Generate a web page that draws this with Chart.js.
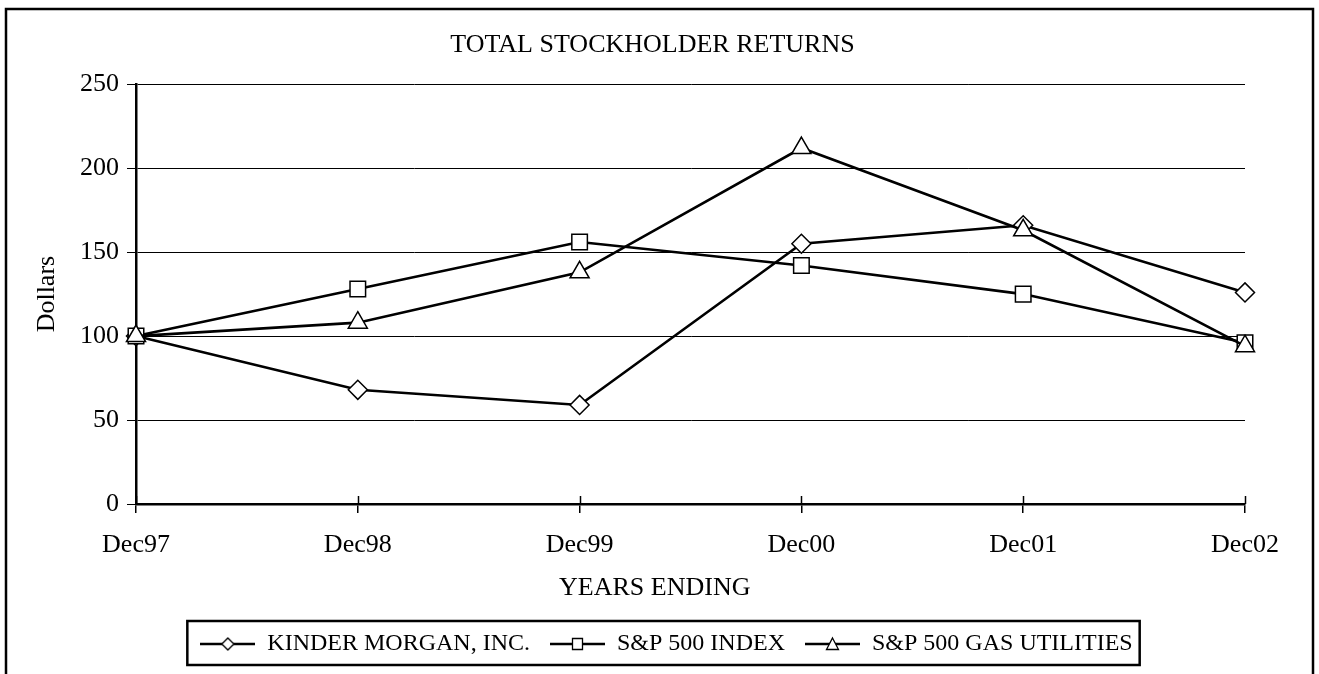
<!DOCTYPE html>
<html>
<head>
<meta charset="utf-8">
<script src="https://cdn.jsdelivr.net/npm/chart.js@4"></script>
<style>
  html, body { margin: 0; padding: 0; background: #fff; }
  #wrap { width: 1319px; height: 674px; }
</style>
</head>
<body>
<div id="wrap"><canvas id="chart"></canvas></div>
<script>
// Values
const years = ['Dec97', 'Dec98', 'Dec99', 'Dec00', 'Dec01', 'Dec02'];
const kinderMorgan = [100, 68, 59, 155, 166, 126];
const sp500 = [100, 128, 156, 142, 125, 96];
const gasUtilities = [100, 108, 138, 212, 163, 94];
const seriesNames = ['KINDER MORGAN, INC.', 'S&P 500 INDEX', 'S&P 500 GAS UTILITIES'];
const yMin = 0, yMax = 250, yStep = 50;

const FONT = "'Liberation Serif', 'Times New Roman', serif";

// small line + marker pictures for the legend
function legendIcon(shape) {
    const c = document.createElement('canvas');
    c.width = 55; c.height = 24;
    const g = c.getContext('2d');
    g.strokeStyle = '#000';
    g.lineWidth = 2.5;
    g.beginPath(); g.moveTo(0, 12); g.lineTo(55, 12); g.stroke();
    g.fillStyle = '#fff';
    g.lineWidth = 1.3;
    g.beginPath();
    if (shape === 'diamond') {
        g.moveTo(27.5, 6); g.lineTo(33.5, 12); g.lineTo(27.5, 18); g.lineTo(21.5, 12); g.closePath();
    } else if (shape === 'square') {
        g.rect(22.5, 6.5, 10, 11);
    } else {
        g.moveTo(27.5, 6); g.lineTo(33.5, 17.5); g.lineTo(21.5, 17.5); g.closePath();
    }
    g.fill(); g.stroke();
    return c;
}
const icons = [legendIcon('diamond'), legendIcon('square'), legendIcon('triangle')];

// outer frame, x tick marks that cross the axis, box round the legend
const framePlugin = {
    id: 'frame',
    afterLayout(chart) {
        // the reference centres title and legend a little right of the canvas middle
        chart.titleBlock.left += 30; chart.titleBlock.right += 30;
        chart.legend.left += 44; chart.legend.right += 44;
    },
    beforeDraw(chart) {
        const ctx = chart.ctx;
        ctx.save();
        ctx.fillStyle = '#fff';
        ctx.fillRect(0, 0, chart.width, chart.height);
        ctx.lineWidth = 2.5;
        ctx.strokeStyle = '#000';
        ctx.strokeRect(6, 9, 1307, 700);
        ctx.restore();
    },
    afterDraw(chart) {
        const ctx = chart.ctx;
        const x = chart.scales.x;
        ctx.save();
        ctx.strokeStyle = '#000';
        ctx.lineWidth = 1.5;
        x.ticks.forEach((t, i) => {
            const px = Math.round(x.getPixelForTick(i)) + 0.5;
            ctx.beginPath(); ctx.moveTo(px, x.top - 8); ctx.lineTo(px, x.top); ctx.stroke();
        });
        const boxes = chart.legend.legendHitBoxes;
        if (boxes.length) {
            const first = boxes[0], last = boxes[boxes.length - 1];
            ctx.lineWidth = 2.5;
            const x0 = first.left - 13, x1 = last.left + last.width + 7;
            const y0 = first.top - 11, y1 = first.top + first.height + 9;
            ctx.strokeRect(x0, y0, x1 - x0, y1 - y0);
        }
        ctx.restore();
    }
};

function series(i, data, shape, radius) {
    return {
        label: seriesNames[i],
        data: data,
        borderColor: '#000',
        borderWidth: 2.6,
        pointStyle: shape,
        pointRadius: radius,
        pointBackgroundColor: '#fff',
        pointBorderColor: '#000',
        pointBorderWidth: 1.5,
        tension: 0,
        order: 2 - i
    };
}

new Chart(document.getElementById('chart'), {
    type: 'line',
    data: {
        labels: years,
        datasets: [
            series(0, kinderMorgan, 'rectRot', 9.5),
            series(1, sp500, 'rect', 11),
            series(2, gasUtilities, 'triangle', 11)
        ]
    },
    options: {
        responsive: true,
        maintainAspectRatio: false,
        animation: false,
        layout: { padding: { left: 0, right: 74, top: 0, bottom: 8 } },
        plugins: {
            tooltip: { enabled: false },
            title: {
                display: true,
                text: 'TOTAL STOCKHOLDER RETURNS',
                color: '#000',
                font: { family: FONT, size: 26, weight: 'normal' },
                padding: { top: 30, bottom: 23 }
            },
            legend: {
                position: 'bottom',
                labels: {
                    usePointStyle: true,
                    pointStyleWidth: 55,
                    color: '#000',
                    padding: 20,
                    font: { family: FONT, size: 24 },
                    generateLabels: (chart) => chart.data.datasets.map((ds, i) => ({
                        text: ds.label,
                        pointStyle: icons[i],
                        fillStyle: '#fff',
                        strokeStyle: '#000',
                        lineWidth: 0,
                        fontColor: '#000',
                        hidden: false,
                        datasetIndex: i
                    }))
                }
            }
        },
        scales: {
            x: {
                offset: false,
                afterFit: (scale) => { scale.height = 108; },
                grid: { drawOnChartArea: false, color: '#000', lineWidth: 1.5, tickLength: 9 },
                border: { color: '#000', width: 2.5 },
                ticks: { color: '#000', padding: 17, maxRotation: 0, font: { family: FONT, size: 26 } },
                title: {
                    display: true,
                    // trailing no-break spaces pull the centred title left, as in the reference
                    text: 'YEARS ENDING' + '\u00a0'.repeat(11),
                    color: '#000',
                    font: { family: FONT, size: 26 },
                    padding: { top: 0, bottom: 8 }
                }
            },
            y: {
                min: yMin,
                max: yMax,
                afterFit: (scale) => { scale.width = 136; },
                grid: { color: '#000', lineWidth: 1, tickLength: 9 },
                border: { color: '#000', width: 2.5 },
                ticks: { stepSize: yStep, color: '#000', padding: 8, font: { family: FONT, size: 26 } },
                title: {
                    display: true,
                    text: 'Dollars',
                    color: '#000',
                    font: { family: FONT, size: 26 },
                    padding: { top: 32, bottom: 0 }
                }
            }
        }
    },
    plugins: [framePlugin]
});
</script>
</body>
</html>
